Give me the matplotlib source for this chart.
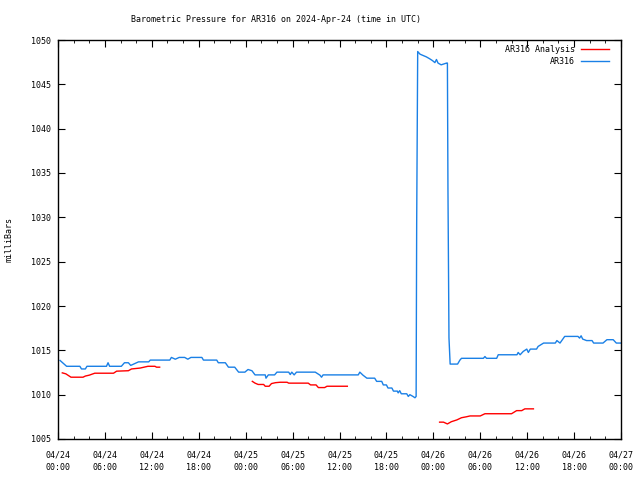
import numpy as np
import matplotlib
matplotlib.use('Agg')
import matplotlib.pyplot as plt

# hours since 2024-04-24 00:00 UTC, observed pressure (mb)
obs_h = [0.26, 1.1, 2.8, 3.0, 3.5, 3.7, 6.2, 6.4, 6.6, 8.1,
         8.5, 9.0, 9.3, 10.3, 11.6, 11.8, 14.3, 14.5, 15.0, 15.5,
         16.2, 16.6, 17.0, 18.4, 18.6, 20.3, 20.5, 21.4, 21.8, 22.6,
         23.1, 23.9, 24.3, 24.8, 25.2, 26.5, 26.6, 26.9, 27.7, 28.0,
         29.5, 29.7, 29.9, 30.2, 30.5, 31.6, 32.9, 33.5, 33.7, 33.9,
         38.4, 38.6, 39.0, 39.5, 40.5, 40.75, 41.4, 41.6, 42.0, 42.2,
         42.7, 42.9, 43.4, 43.5, 43.7, 43.9, 44.6, 44.8, 45.0, 45.4,
         45.65, 45.8, 45.87, 46.0, 46.3, 47.1, 47.5, 47.9, 48.2, 48.4,
         48.6, 49.0, 49.7, 49.8, 49.87, 50.0, 50.15, 51.1, 51.4, 51.6,
         54.4, 54.6, 54.8, 56.1, 56.3, 58.7, 58.85, 59.1, 59.5, 59.95,
         60.15, 60.4, 61.2, 61.4, 62.1, 63.6, 63.8, 64.2, 64.8, 66.5,
         66.7, 66.9, 67.1, 67.6, 68.3, 68.5, 69.7, 70.2, 71.0, 71.4,
         72.1]
obs_p = [1013.86, 1013.2, 1013.2, 1012.9, 1012.9, 1013.2, 1013.2, 1013.6, 1013.2, 1013.2,
         1013.6, 1013.6, 1013.3, 1013.7, 1013.7, 1013.9, 1013.9, 1014.2, 1014.0, 1014.2,
         1014.2, 1014.0, 1014.2, 1014.2, 1013.9, 1013.9, 1013.6, 1013.6, 1013.1, 1013.1,
         1012.54, 1012.54, 1012.84, 1012.7, 1012.23, 1012.23, 1011.86, 1012.23, 1012.23, 1012.54,
         1012.54, 1012.27, 1012.54, 1012.23, 1012.54, 1012.54, 1012.54, 1012.2, 1011.97, 1012.23,
         1012.23, 1012.54, 1012.2, 1011.86, 1011.86, 1011.5, 1011.5, 1011.1, 1011.1, 1010.75,
         1010.75, 1010.4, 1010.4, 1010.2, 1010.45, 1010.1, 1010.1, 1009.8, 1010.0, 1009.8,
         1009.65, 1009.8, 1029.3, 1048.7, 1048.4, 1048.1, 1047.9, 1047.67, 1047.45, 1047.8,
         1047.4, 1047.2, 1047.4, 1047.4, 1033.2, 1016.4, 1013.45, 1013.45, 1013.9, 1014.1,
         1014.1, 1014.3, 1014.1, 1014.1, 1014.5, 1014.5, 1014.76, 1014.5, 1014.88, 1015.14,
         1014.76, 1015.14, 1015.14, 1015.44, 1015.82, 1015.82, 1016.1, 1015.82, 1016.57, 1016.57,
         1016.38, 1016.64, 1016.27, 1016.1, 1016.1, 1015.82, 1015.82, 1016.2, 1016.2, 1015.82,
         1015.82]

# analysis series, NaN separates the gaps
ana_h = [0.55, 1.0, 1.66, 3.2, 3.5, 4.0, 4.7, 7.1, 7.5, 9.0, 9.4, 10.5, 11.0, 11.5, 12.4, 12.6,
         13.0, np.nan,
         24.85, 25.2, 25.6, 26.3, 26.5, 27.0, 27.3, 27.8, 28.4, 29.3, 29.5, 32.0, 32.3, 33.0,
         33.3, 34.1, 34.4, 37.0, np.nan,
         48.8, 49.3, 49.8, 50.3, 51.0, 51.6, 52.2, 52.7, 54.0, 54.6, 58.0, 58.65, 59.3, 59.7,
         60.8]
ana_p = [1012.46, 1012.35, 1011.97, 1011.97, 1012.1, 1012.2, 1012.42, 1012.42, 1012.65,
         1012.7, 1012.9, 1013.0, 1013.1, 1013.2, 1013.2, 1013.1, 1013.1, np.nan,
         1011.5, 1011.3, 1011.15, 1011.15, 1010.95, 1010.95, 1011.25, 1011.35, 1011.4, 1011.4,
         1011.3, 1011.3, 1011.1, 1011.1, 1010.8, 1010.8, 1010.95, 1010.95, np.nan,
         1006.9, 1006.9, 1006.7, 1006.95, 1007.15, 1007.4, 1007.5, 1007.6, 1007.6, 1007.85,
         1007.85, 1008.2, 1008.2, 1008.4, 1008.4]

xtick_h = list(range(0, 73, 6))
xtick_lbl = ['04/24\n00:00', '04/24\n06:00', '04/24\n12:00', '04/24\n18:00',
             '04/25\n00:00', '04/25\n06:00', '04/25\n12:00', '04/25\n18:00',
             '04/26\n00:00', '04/26\n06:00', '04/26\n12:00', '04/26\n18:00',
             '04/27\n00:00']
yticks = list(range(1005, 1051, 5))

plt.rcParams['font.family'] = 'DejaVu Sans Mono'
plt.rcParams['font.size'] = 6.0

fig = plt.figure(figsize=(6.4, 4.8), dpi=100)
ax = fig.add_axes([58/640, 41/480, 563/640, 399/480])

ax.plot(ana_h, ana_p, color='#ff0000', lw=1, label='AR316 Analysis')
ax.plot(obs_h, obs_p, color='#1a80e6', lw=1, label='AR316')

ax.set_xlim(0, 72)
ax.set_ylim(1005, 1050)
ax.set_xticks(xtick_h)
ax.set_xticklabels(xtick_lbl, linespacing=1.6)
ax.set_xticks(np.arange(0, 73, 2), minor=True)
ax.set_yticks(yticks)
ax.tick_params(which='both', direction='in', top=True, right=True, colors='black')
ax.tick_params(which='major', length=5)
ax.tick_params(which='minor', length=2.5)
ax.tick_params(axis='x', which='major', pad=8)
ax.tick_params(axis='y', which='major', pad=5)
for s in ax.spines.values():
    s.set_linewidth(1)

ax.set_ylabel('milliBars')
ax.yaxis.set_label_coords(-0.079, 0.5)
fig.text(276/640, 1 - 19/480, 'Barometric Pressure for AR316 on 2024-Apr-24 (time in UTC)',
         ha='center', va='center')

ax.legend(loc='upper right', bbox_to_anchor=(1 - 3/563, 1 + 4/399), frameon=False,
          markerfirst=False, handlelength=3.3, handletextpad=0.8, labelspacing=0.35,
          borderaxespad=0.7)

fig.savefig('out.png', dpi=100)
